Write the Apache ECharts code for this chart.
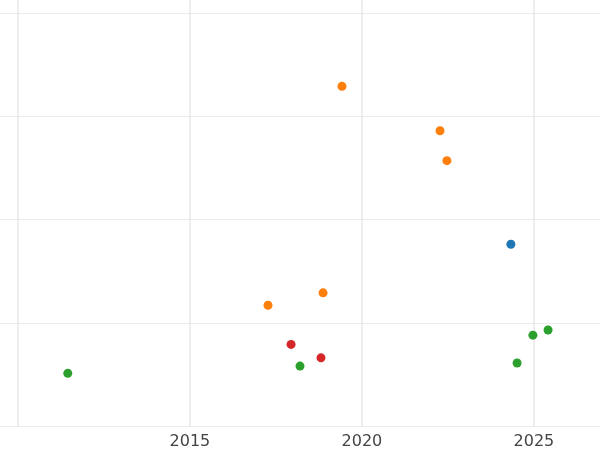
<!DOCTYPE html>
<html><head><meta charset="utf-8">
<script src="https://cdn.jsdelivr.net/npm/echarts@6/dist/echarts.min.js"></script>
<style>html,body{margin:0;padding:0;background:#fff}#c{width:600px;height:450px}</style>
</head><body><div id="c"></div>
<script>
const blueX=[2024.33], blueY=[1.76];
const orangeX=[2019.42,2022.27,2022.47,2017.27,2018.87], orangeY=[3.29,2.86,2.57,1.17,1.29];
const greenX=[2025.41,2024.97,2018.20,2024.51,2011.45], greenY=[0.93,0.88,0.58,0.61,0.51];
const redX=[2017.94,2018.81], redY=[0.79,0.66];
const xTicks=[2010,2015,2020,2025], xLabels=[2015,2020,2025], yTicks=[0,1,2,3,4];
const pts=(xs,ys)=>xs.map((x,i)=>[x,ys[i]]);
const mk=(name,xs,ys,color)=>({name,type:'scatter',data:pts(xs,ys),symbolSize:9,itemStyle:{color,opacity:1}});
const chart=echarts.init(document.getElementById('c'));
chart.setOption({
  animation:false,
  grid:{left:0,right:0,top:0,bottom:23,containLabel:false},
  xAxis:{type:'value',min:2009.48,max:2026.92,
    axisLine:{show:false},axisTick:{show:false,customValues:xTicks},
    axisLabel:{customValues:xLabels,formatter:v=>String(Math.round(v)),color:'#444',fontSize:16,fontFamily:'DejaVu Sans',margin:8},
    splitLine:{show:true,lineStyle:{color:'#e8e8e8',width:1.5}}},
  yAxis:{type:'value',min:0,max:4.126,
    axisLine:{show:false},axisTick:{show:false,customValues:yTicks},
    axisLabel:{show:false,customValues:yTicks},
    splitLine:{show:true,lineStyle:{color:'#ececec',width:1}}},
  series:[mk('blue',blueX,blueY,'#1f77b4'),mk('orange',orangeX,orangeY,'#ff7f0e'),
          mk('green',greenX,greenY,'#2ca02c'),mk('red',redX,redY,'#d62728')]
});
</script></body></html>
